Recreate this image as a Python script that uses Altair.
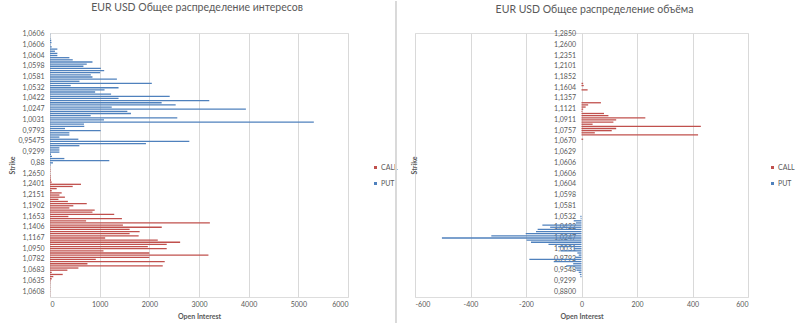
import json
import altair as alt
import pandas as pd

# ---------------- data ----------------
left_labels = ["1,0606", "1,0606", "1,0604", "1,0598", "1,0581", "1,0532", "1,0422", "1,0247",
               "1,0031", "0,9793", "0,95475", "0,9299", "0,88", "1,2650", "1,2401", "1,2151",
               "1,1902", "1,1653", "1,1406", "1,1167", "1,0950", "1,0782", "1,0683", "1,0635", "1,0608"]
right_labels = ["1,2850", "1,2600", "1,2351", "1,2101", "1,1852", "1,1604", "1,1357", "1,1121",
                "1,0911", "1,0757", "1,0670", "1,0629", "1,0606", "1,0606", "1,0604", "1,0598",
                "1,0581", "1,0532", "1,0422", "1,0247", "1,0031", "0,9793", "0,9548", "0,9299", "0,8800"]

# left panel: open interest, rows 0-61 are PUT, rows 62-122 are CALL
left_put = [5, 3, 8, 25, 30, 10, 35, 148, 100, 148,
            148, 390, 458, 855, 740, 673, 1024, 1091, 1010, 822,
            855, 1347, 593, 2050, 417, 1380, 1098, 909, 1230, 2410,
            1380, 3207, 2248, 2530, 1243, 3944, 1557, 1630, 819, 2563,
            1087, 5312, 684, 690, 302, 1020, 390, 390, 189, 571,
            2805, 1932, 591, 189, 189, 189, 20, 40, 289, 1194,
            60, 10]
left_call = [5, 8, 10, 6, 12, 15, 20, 35, 624, 457,
             135, 35, 235, 190, 300, 170, 360, 740, 470, 390,
             900, 855, 1293, 370, 1448, 727, 3219, 1468, 2250, 1603,
             1805, 1603, 1785, 1111, 2170, 2620, 2350, 1970, 2350, 1077,
             2000, 3190, 2000, 922, 2310, 754, 2270, 572, 350, 35,
             256, 67, 34, 12, 8, 5, 6, 4, 5, 3,
             4]

# right panel: volume, rows 0-61 are CALL (positive), rows 62-122 are PUT (negative)
right_call = [0, 0, 0, 0, 0, 0, 0, 0, 0, 0,
              0, 0, 0, 0, 0, 0, 0, 0, 0, 0,
              0, 0, 0, 6, 8, 0, 22, 0, 0, 0,
              0, 0, 70, 24, 15, 6, 3, 81, 97, 230,
              125, 115, 40, 430, 125, 109, 48, 420, 0, 6,
              0, 0, 0, 0, 0, 0, 0, 0, 0, 0,
              0, 0]
right_put = [0, 0, 0, 0, 0, 0, 0, 0, 0, 0,
             0, 0, 0, 0, 0, 0, 0, 0, 0, 0,
             0, 0, 0, -4, -3, -28, -20, -141, -113, -158,
             -164, -201, -325, -503, -198, -182, -119, -84, -28, -76,
             -15, -10, -22, -188, -100, -30, -55, -22, -18, -10,
             -6, -4, 0, 0, 0, 0, 0, 0, 0, 0,
             0]

series_names = ["CALL", "PUT"]
series_colors = ["#C0504D", "#4F81BD"]

n_rows = len(left_put) + len(left_call)

left_df = pd.DataFrame({
    "row": list(range(n_rows)),
    "value": left_put + left_call,
    "series": ["PUT"] * len(left_put) + ["CALL"] * len(left_call),
})
right_df = pd.DataFrame({
    "row": list(range(n_rows)),
    "value": right_call + right_put,
    "series": ["CALL"] * len(right_call) + ["PUT"] * len(right_put),
})

# ---------------- style ----------------
FONT = "Lato"
GREY = "#595959"
GRID = "#D9D9D9"
H = 264
WL = 298
WR = 333
label_rows = list(range(0, n_rows, 5))


def y_axis(labels, offset=0, title_x=-38):
    return alt.Axis(
        values=label_rows,
        labelExpr=f"{json.dumps(labels)}[datum.value / 5]",
        ticks=False, domain=False, grid=False,
        labelPadding=6, labelFontSize=7, labelColor=GREY, labelFont=FONT,
        title="Strike", titleFontSize=7, titleFontWeight="bold", titleColor=GREY, titleFont=FONT,
        titleX=title_x, titleY=H / 2, titleBaseline="middle",
        offset=offset, minExtent=0,
    )


def x_axis(vals):
    return alt.Axis(
        values=vals, labelExpr="'' + datum.value",
        grid=True, gridColor=GRID, gridWidth=1, domain=False, ticks=False,
        labelPadding=3, labelFontSize=7, labelColor=GREY, labelFont=FONT,
        title="Open Interest", titleFontSize=7, titleFontWeight="bold", titleColor=GREY,
        titleFont=FONT, titlePadding=5,
    )


def legend(x):
    return alt.Legend(
        title=None, orient="none", legendX=x, legendY=131,
        symbolType="square", symbolSize=9, symbolStrokeWidth=0,
        labelFontSize=7, labelColor=GREY, labelFont=FONT, labelOffset=2,
        rowPadding=8, padding=0,
    )


color_scale = alt.Scale(domain=series_names, range=series_colors)
yscale = alt.Scale(paddingInner=0, paddingOuter=0)

left = alt.Chart(left_df).mark_bar(size=1.3).encode(
    x=alt.X("value:Q", scale=alt.Scale(domain=[0, 6000], nice=False), axis=x_axis(list(range(0, 6001, 1000)))),
    y=alt.Y("row:O", scale=yscale, axis=y_axis(left_labels)),
    color=alt.Color("series:N", scale=color_scale, legend=legend(322)),
).properties(
    width=WL, height=H,
    title=alt.TitleParams("EUR USD Общее распределение интересов", fontSize=10.5, font=FONT,
                          color=GREY, fontWeight="normal", offset=16, dx=-2),
)

right_bars = alt.Chart(right_df).mark_bar(size=1.3).encode(
    x=alt.X("value:Q", scale=alt.Scale(domain=[-600, 600], nice=False), axis=x_axis(list(range(-600, 601, 200)))),
    y=alt.Y("row:O", scale=yscale, axis=y_axis(right_labels, offset=-WR / 2, title_x=-WR / 2 - 1)),
    color=alt.Color("series:N", scale=color_scale, legend=legend(354)),
)

separator = alt.Chart(right_df).mark_rule(color=GRID, strokeWidth=1).encode(
    x=alt.value(-19), y=alt.value(-32), y2=alt.value(H + 26),
)

right = alt.layer(separator, right_bars).properties(
    width=WR, height=H,
    title=alt.TitleParams("EUR USD Общее распределение объёма", fontSize=10.5, font=FONT,
                          color=GREY, fontWeight="normal", offset=-15, dx=13),
)

chart = alt.hconcat(left, right, spacing=67, bounds="flush").resolve_scale(
    color="independent", y="independent", x="independent"
).resolve_legend(color="independent").properties(
    padding={"left": 7, "top": 0, "right": 0, "bottom": 0},
).configure_view(strokeWidth=0).configure(background="white")

chart.save("out.html", embed_options={"renderer": "svg", "actions": False})
